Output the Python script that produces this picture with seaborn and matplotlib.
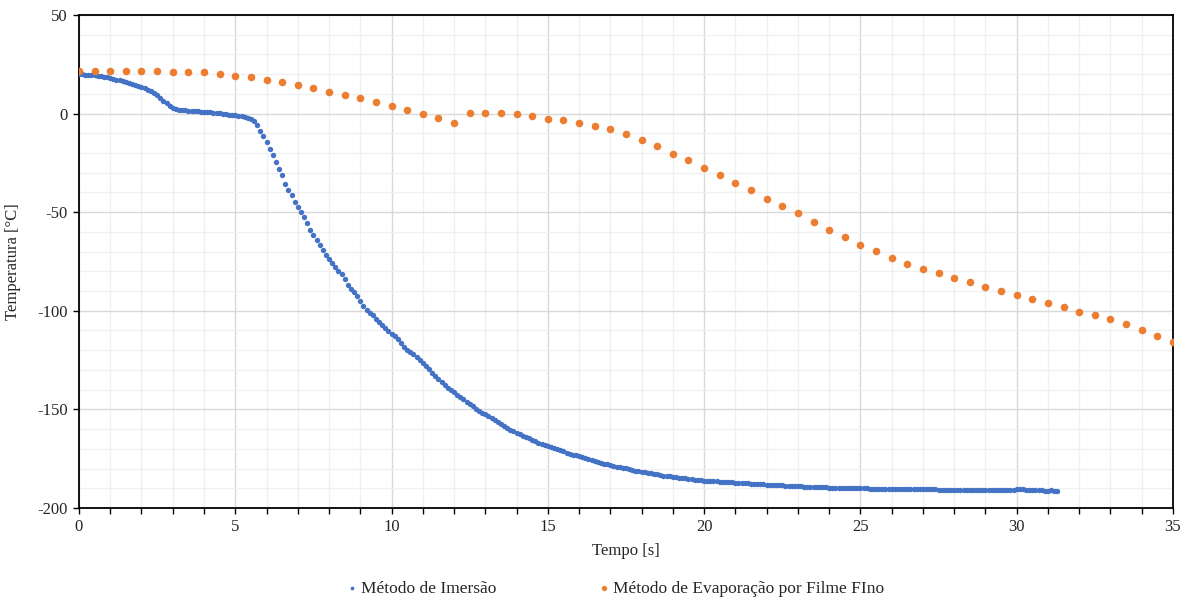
import numpy as np
import pandas as pd
import matplotlib
matplotlib.use("Agg")
import matplotlib.pyplot as plt
import seaborn as sns
from matplotlib.ticker import MultipleLocator

# Immersion method: one reading every 0.1 s from t = 0
IMMERSION_DT = 0.1
immersion_temp = [
    20.0, 19.9, 19.8, 19.7, 19.6, 19.4, 19.2, 18.9, 18.6, 18.3,
    18.0, 17.6, 17.2, 16.8, 16.4, 16.0, 15.6, 15.1, 14.6, 14.1,
    13.5, 12.8, 12.0, 11.2, 10.2, 9.2, 8.0, 6.6, 5.2, 4.0,
    3.0, 2.4, 2.0, 1.8, 1.6, 1.5, 1.4, 1.3, 1.1, 1.0,
    0.9, 0.8, 0.6, 0.5, 0.3, 0.1, -0.1, -0.3, -0.5, -0.7,
    -0.9, -1.1, -1.4, -1.7, -2.0, -2.6, -3.8, -6.0, -8.8, -11.5,
    -14.5, -17.8, -21.0, -24.6, -28.0, -31.4, -35.5, -38.6, -41.3, -44.6,
    -47.5, -49.7, -52.5, -55.6, -58.8, -61.5, -64.0, -66.8, -69.2, -71.5,
    -73.8, -75.9, -77.8, -79.6, -81.4, -84.0, -86.8, -89.2, -90.6, -92.6,
    -95.2, -97.8, -99.8, -100.9, -102.4, -104.0, -105.6, -107.1, -108.6, -110.2,
    -111.6, -113.0, -114.4, -116.2, -118.2, -119.8, -121.0, -122.0, -123.3, -124.8,
    -126.6, -128.0, -129.6, -131.4, -133.0, -134.8, -136.3, -137.6, -139.0, -140.2,
    -141.4, -142.7, -143.9, -145.0, -146.1, -147.3, -148.5, -149.6, -150.7, -151.6,
    -152.4, -153.3, -154.4, -155.5, -156.6, -157.6, -158.6, -159.5, -160.3, -161.0,
    -161.8, -162.6, -163.4, -164.0, -164.7, -165.5, -166.3, -166.9, -167.5, -168.1,
    -168.5, -168.9, -169.5, -170.1, -170.7, -171.3, -171.9, -172.4, -172.9, -173.4,
    -173.9, -174.4, -174.8, -175.3, -175.8, -176.3, -176.7, -177.1, -177.5, -177.9,
    -178.3, -178.7, -179.0, -179.3, -179.6, -179.9, -180.3, -180.7, -181.1, -181.4,
    -181.6, -181.8, -182.1, -182.4, -182.7, -183.0, -183.3, -183.6, -183.8, -184.0,
    -184.2, -184.4, -184.6, -184.8, -185.0, -185.2, -185.4, -185.6, -185.8, -186.0,
    -186.1, -186.2, -186.3, -186.4, -186.5, -186.6, -186.7, -186.8, -186.9, -187.0,
    -187.1, -187.2, -187.3, -187.4, -187.5, -187.6, -187.8, -187.9, -188.0, -188.1,
    -188.2, -188.3, -188.4, -188.5, -188.6, -188.6, -188.7, -188.8, -188.9, -189.0,
    -189.1, -189.1, -189.2, -189.3, -189.3, -189.4, -189.5, -189.5, -189.6, -189.6,
    -189.7, -189.7, -189.8, -189.8, -189.8, -189.9, -189.9, -190.0, -190.0, -190.0,
    -190.1, -190.1, -190.1, -190.2, -190.2, -190.2, -190.3, -190.2, -190.3, -190.3,
    -190.4, -190.4, -190.4, -190.4, -190.5, -190.5, -190.5, -190.5, -190.5, -190.6,
    -190.6, -190.6, -190.6, -190.5, -190.4, -190.7, -190.7, -190.7, -190.7, -190.7,
    -190.7, -190.7, -190.8, -190.8, -190.8, -190.8, -190.7, -190.8, -190.8, -190.8,
    -190.8, -190.8, -190.8, -190.9, -190.9, -190.9, -190.8, -190.9, -190.9, -190.9,
    -190.6, -190.5, -190.6, -190.9, -191.0, -191.0, -190.8, -191.0, -191.1, -191.2,
    -191.2, -191.1, -191.2, -191.3,
]

# Thin film evaporation method: one reading every 0.5 s from t = 0
FILM_DT = 0.5
film_temp = [
    21.8, 21.8, 21.8, 21.8, 21.8, 21.8, 21.3, 21.3, 20.9, 20.0,
    19.2, 18.4, 17.2, 15.8, 14.4, 12.8, 11.1, 9.3, 7.8, 5.9,
    3.9, 1.9, -0.3, -2.4, -4.6, 0.5, 0.5, 0.5, -0.3, -1.2,
    -2.6, -3.4, -4.6, -6.3, -8.0, -10.6, -13.4, -16.5, -20.4, -23.6,
    -27.4, -31.3, -35.0, -38.9, -43.2, -46.8, -50.5, -54.9, -58.8, -62.6,
    -66.5, -69.9, -73.3, -76.2, -78.7, -80.8, -83.3, -85.6, -87.8, -89.8,
    -91.8, -94.0, -96.1, -98.3, -100.4, -102.0, -104.1, -106.8, -109.7, -112.8,
    -115.7,
]

LABEL_IMMERSION = "Método de Imersão"
LABEL_FILM = "Método de Evaporação por Filme FIno"
BLUE = "#4472C4"
ORANGE = "#ED7D31"


def build_frames():
    imm = pd.DataFrame({"t": np.arange(len(immersion_temp)) * IMMERSION_DT,
                        "T": immersion_temp})
    film = pd.DataFrame({"t": np.arange(len(film_temp)) * FILM_DT,
                         "T": film_temp})
    return imm, film


def main():
    sns.set_theme(style="white")
    plt.rcParams["font.family"] = ["Liberation Serif", "DejaVu Serif"]
    plt.rcParams["axes.unicode_minus"] = False

    imm, film = build_frames()

    fig = plt.figure(figsize=(11.86, 5.99), dpi=100)
    ax = fig.add_axes([0.0666, 0.152, 0.9224, 0.823])

    sns.scatterplot(data=imm, x="t", y="T", ax=ax, color=BLUE, s=15,
                    linewidth=0, label=LABEL_IMMERSION, zorder=3)
    sns.scatterplot(data=film, x="t", y="T", ax=ax, color=ORANGE, s=30,
                    linewidth=0, label=LABEL_FILM, zorder=3)

    ax.set_xlim(0, 35)
    ax.set_ylim(-200, 50)
    ax.xaxis.set_major_locator(MultipleLocator(5))
    ax.xaxis.set_minor_locator(MultipleLocator(1))
    ax.yaxis.set_major_locator(MultipleLocator(50))
    ax.yaxis.set_minor_locator(MultipleLocator(10))

    ax.grid(which="major", color="#d9d9d9", linewidth=1.0)
    ax.grid(which="minor", color="#f0f0f0", linewidth=1.0)
    ax.set_axisbelow(True)

    for side in ax.spines.values():
        side.set_color("black")
        side.set_linewidth(1.3)

    ax.tick_params(axis="x", which="both", direction="out", length=4,
                   width=1, color="black", bottom=True, labelsize=12, pad=4)
    ax.tick_params(axis="y", which="major", direction="out", length=4,
                   width=1, color="black", left=True, labelsize=12, pad=4)
    ax.tick_params(axis="y", which="minor", left=False)

    ax.set_xlabel("Tempo [s]", fontsize=12, labelpad=6)
    ax.set_ylabel("Temperatura [°C]", fontsize=12, labelpad=12)

    ax.legend_.remove()
    handles, labels = ax.get_legend_handles_labels()
    fig.legend(handles, labels, loc="lower center", ncol=2,
               bbox_to_anchor=(0.519, -0.022), frameon=False,
               fontsize=12.5, markerscale=0.7, handlelength=0.6,
               handletextpad=0.2, columnspacing=5.9)

    fig.savefig("out.png", dpi=100)


if __name__ == "__main__":
    main()
